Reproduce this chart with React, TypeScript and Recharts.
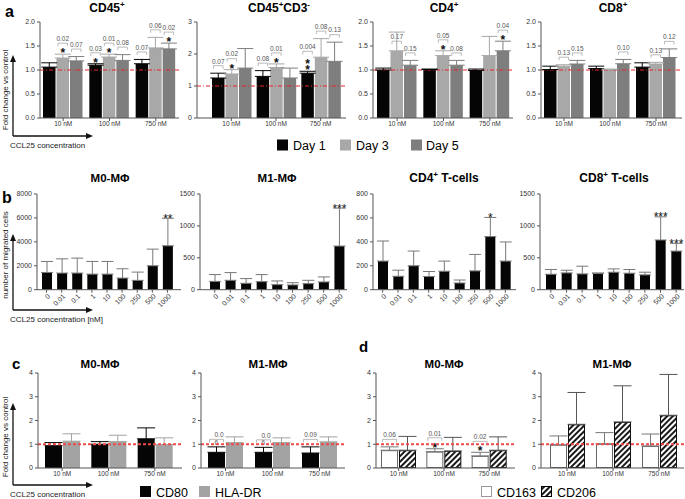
import React from 'react';
import { BarChart, Bar, XAxis, YAxis, ErrorBar, ReferenceLine } from 'recharts';

const FONT = '"Liberation Sans", Arial, Helvetica, sans-serif';

// ---------- Panel a: fold change vs control (Day 1 / Day 3 / Day 5) ----------
const doseA = ['10 nM', '100 nM', '750 nM'];

const cd45Day1 = [1.06, 1.10, 1.13];
const cd45Day1Err = [0.09, 0.03, 0.09];
const cd45Day1P = ['', '0.03', '0.07'];
const cd45Day1Star = [0, 1, 0];
const cd45Day3 = [1.25, 1.27, 1.46];
const cd45Day3Err = [0.08, 0.06, 0.22];
const cd45Day3P = ['0.02', '0.01', '0.06'];
const cd45Day3Star = [1, 1, 0];
const cd45Day5 = [1.19, 1.20, 1.44];
const cd45Day5Err = [0.09, 0.12, 0.12];
const cd45Day5P = ['0.07', '0.08', '0.02'];
const cd45Day5Star = [0, 0, 1];

const cd3nDay1 = [1.25, 1.30, 1.40];
const cd3nDay1Err = [0.15, 0.18, 0.06];
const cd3nDay1P = ['0.07', '0.08', '0.004'];
const cd3nDay1Star = [0, 0, 2];
const cd3nDay3 = [1.375, 1.58, 1.90];
const cd3nDay3Err = [0.135, 0.11, 0.58];
const cd3nDay3P = ['0.02', '0.01', '0.08'];
const cd3nDay3Star = [1, 1, 0];
const cd3nDay5 = [1.56, 1.25, 1.77];
const cd3nDay5Err = [0.61, 0.31, 0.60];
const cd3nDay5P = ['', '', '0.13'];
const cd3nDay5Star = [0, 0, 0];

const cd4Day1 = [1.00, 1.01, 0.99];
const cd4Day1Err = [0.04, 0.01, 0.03];
const cd4Day3 = [1.40, 1.30, 1.30];
const cd4Day3Err = [0.39, 0.10, 0.40];
const cd4Day3P = ['0.17', '0.05', ''];
const cd4Day3Star = [0, 1, 0];
const cd4Day3PAt = [1.6, null, null];
const cd4Day5 = [1.10, 1.10, 1.40];
const cd4Day5Err = [0.10, 0.10, 0.20];
const cd4Day5P = ['0.15', '0.08', '0.04'];
const cd4Day5Star = [0, 0, 1];

const cd8Day1 = [1.01, 1.03, 1.06];
const cd8Day1Err = [0.07, 0.05, 0.09];
const cd8Day3 = [1.08, 1.01, 1.125];
const cd8Day3Err = [0.03, 0.01, 0.035];
const cd8Day3P = ['0.13', '', '0.13'];
const cd8Day5 = [1.125, 1.13, 1.26];
const cd8Day5Err = [0.075, 0.09, 0.18];
const cd8Day5P = ['0.15', '0.10', '0.12'];

// ---------- Panel b: number of migrated cells ----------
const doseB = ['0', '0.01', '0.1', '1', '10', '100', '250', '500', '1000'];
const m0Migr = [1440, 1390, 1390, 1300, 1300, 970, 780, 2000, 3670];
const m0MigrErr = [920, 1190, 1250, 1060, 1060, 780, 690, 1390, 2300];
const m0MigrStars = ['', '', '', '', '', '', '', '', '**'];
const m1Migr = [130, 147, 100, 126, 79, 74, 95, 121, 684];
const m1MigrErr = [107, 121, 74, 111, 58, 36, 52, 79, 595];
const m1MigrStars = ['', '', '', '', '', '', '', '', '***'];
const cd4Migr = [239, 112, 200, 110, 154, 56, 157, 444, 239];
const cd4MigrErr = [168, 51, 123, 42, 85, 25, 138, 160, 160];
const cd4MigrStars = ['', '', '', '', '', '', '', '*', ''];
const cd8Migr = [242, 263, 247, 253, 274, 258, 232, 779, 605];
const cd8MigrErr = [74, 42, 121, 10, 52, 58, 42, 363, 121];
const cd8MigrStars = ['', '', '', '', '', '', '', '***', '***'];

// ---------- Panel c: CD80 / HLA-DR ----------
const doseC = ['10 nM', '100 nM', '750 nM'];
const m0Cd80 = [0.94, 1.00, 1.23];
const m0Cd80Err = [0.13, 0.11, 0.46];
const m0Hla = [1.13, 1.11, 0.99];
const m0HlaErr = [0.31, 0.27, 0.28];
const m1Cd80 = [0.66, 0.66, 0.63];
const m1Cd80Err = [0.23, 0.21, 0.26];
const m1Cd80P = ['0.0\n6', '0.0\n6', '0.09'];
const m1Hla = [1.07, 1.07, 1.10];
const m1HlaErr = [0.24, 0.20, 0.21];

// ---------- Panel d: CD163 / CD206 ----------
const m0Cd163 = [0.75, 0.69, 0.51];
const m0Cd163Err = [0.14, 0.12, 0.15];
const m0Cd163P = ['0.06', '0.01', '0.02'];
const m0Cd163Star = [0, 1, 1];
const m0Cd206 = [0.75, 0.72, 0.75];
const m0Cd206Err = [0.58, 0.57, 0.56];
const m1Cd163 = [0.98, 1.02, 0.93];
const m1Cd163Err = [0.37, 0.47, 0.50];
const m1Cd206 = [1.84, 1.94, 2.22];
const m1Cd206Err = [1.34, 1.52, 1.72];

const ticksA = [0, 0.5, 1, 1.5, 2];
const ticksA2 = [0, 1, 2, 3];
const ticksB1 = [0, 2000, 4000, 6000, 8000];
const ticksB2 = [0, 500, 1000, 1500];
const ticksB3 = [0, 200, 400, 600, 800];
const ticksCD = [0, 1, 2, 3, 4];

// ---------- colours ----------
const BLACK = '#050505';
const LIGHT = '#a8a8a8';
const DARK = '#7e7e7e';
const HLA = '#a3a3a3';

type SeriesSpec = {
  values: number[];
  errs: number[];
  fill: string;
  stroke?: string;
  errColor: string;
  pvals?: string[];
  stars?: number[];
  starText?: string[];
  pAt?: (number | null)[];
};

function makeShape(s: SeriesSpec) {
  return (props: any) => {
    const { x, y, width, height, payload } = props;
    if (x == null || y == null || !width || !payload) return <g />;
    const i = payload.i;
    const v = s.values[i];
    const e = s.errs[i];
    const ppu = v ? height / v : 0;
    const eTop = y - e * ppu;
    const base = y + height;
    const cx = x + width / 2;
    const els: React.ReactNode[] = [];
    const sw = s.stroke ? 1 : 0;
    els.push(
      <rect key="b" x={x + sw / 2} y={y + sw / 2} width={Math.max(0, width - sw)} height={Math.max(0, height - sw)}
        fill={s.fill} stroke={s.stroke || 'none'} strokeWidth={sw} />
    );
    const n = s.stars ? s.stars[i] : 0;
    if (n > 0) {
      const first = eTop - 4.5 + 7.5;
      els.push(
        <text key="s" x={cx} y={first - 6 * (n - 1)} textAnchor="middle" fontSize={12} fontWeight="bold" fill="#111" fontFamily={FONT}>
          {Array.from({ length: n }).map((_, j) => (
            <tspan key={j} x={cx} dy={j === 0 ? 0 : 6}>*</tspan>
          ))}
        </text>
      );
    }
    const p = s.pvals ? s.pvals[i] : '';
    if (p) {
      const over = s.pAt ? s.pAt[i] : null;
      const at = over != null
        ? base - over * ppu
        : (n > 1 ? eTop - 4.5 - 6 * (n - 1) - 9.5 : n > 0 ? eTop - 11 : eTop - 7.5);
      const bx1 = x + 1.5, bx2 = x + width - 1.5;
      els.push(<path key="br" d={`M${bx1},${at + 3}V${at}H${bx2}V${at + 3}`} fill="none" stroke="#aaa" strokeWidth={0.8} />);
      const lines = p.split('\n');
      if (lines.length === 1) {
        els.push(<text key="p" x={cx} y={at - 2.2} textAnchor="middle" fontSize={6.5} fill="#555" fontFamily={FONT}>{p}</text>);
      } else {
        els.push(
          <text key="p" x={cx - 2} y={at - 2.2} textAnchor="start" fontSize={6.5} fill="#555" fontFamily={FONT}>
            <tspan x={cx - 2} dy={0}>{lines[0]}</tspan>
            <tspan x={cx - 2} dy={7.7}>{lines[1]}</tspan>
          </text>
        );
      }
    }
    if (s.starText && s.starText[i]) {
      els.push(<text key="st" x={cx} y={eTop + 4.5} textAnchor="middle" fontSize={12} fill="#111" fontFamily={FONT}>{s.starText[i]}</text>);
    }
    return <g>{els}</g>;
  };
}

const FlatTick = (props: any) => {
  const { x, y, payload } = props;
  return (
    <text x={x} y={y + 5} textAnchor="middle" fontSize={6.5} fill="#333" fontFamily={FONT}>{payload.value}</text>
  );
};

const RotTick = (props: any) => {
  const { x, y, payload } = props;
  const ax = x + 4, ay = y + 4;
  return (
    <text x={ax} y={ay} transform={`rotate(-45 ${ax} ${ay})`} textAnchor="end" fontSize={7} fill="#333" fontFamily={FONT}>{payload.value}</text>
  );
};

type PanelProps = {
  axisX: number; plotTop: number; plotH: number; plotW: number;
  padL?: number; padR?: number;
  cats: string[]; series: SeriesSpec[];
  domain: [number, number]; ticks: number[]; decimals?: number;
  barSize: number; barGap: number; capW: number;
  refLine?: 'a' | 'c';
  rotated?: boolean;
};

const YW = 30, MT = 34, MR = 3;

function Panel(p: PanelProps) {
  const rows = p.cats.map((c, i) => {
    const r: any = { cat: c, i };
    p.series.forEach((s, k) => {
      r['v' + k] = s.values[i];
      r['e' + k] = [0, s.errs[i]];
    });
    return r;
  });
  const XH = p.rotated ? 34 : 16;
  const padL = p.padL ?? 0, padR = p.padR ?? 0;
  const width = YW + padL + p.plotW + padR + MR;
  const height = MT + p.plotH + XH;
  const ref = p.refLine === 'a'
    ? <ReferenceLine y={1} stroke="#e3262b" strokeWidth={1} strokeDasharray="4 2 1 2" ifOverflow="visible" />
    : p.refLine === 'c'
      ? <ReferenceLine y={1} stroke="#f04a4a" strokeWidth={2} strokeDasharray="3 2" ifOverflow="visible" />
      : null;
  return (
    <div style={{ position: 'absolute', left: p.axisX - YW, top: p.plotTop - MT }}>
      <BarChart width={width} height={height} data={rows}
        margin={{ top: MT, right: MR, bottom: 0, left: 0 }}
        barGap={p.barGap} barSize={p.barSize} barCategoryGap={0}>
        {p.refLine === 'a' ? ref : null}
        <XAxis dataKey="cat" interval={0} padding={{ left: padL, right: padR }} height={XH}
          axisLine={{ stroke: '#555' }} tickLine={{ stroke: '#555' }} tickSize={3} tickMargin={0}
          tick={p.rotated ? <RotTick /> : <FlatTick />} />
        <YAxis type="number" width={YW} domain={p.domain} ticks={p.ticks} interval={0} allowDataOverflow
          axisLine={{ stroke: '#555' }} tickLine={{ stroke: '#555' }} tickSize={3} tickMargin={2}
          tick={{ fontSize: 7, fill: '#333', fontFamily: FONT }}
          tickFormatter={(v: number) => v.toFixed(p.decimals ?? 0)} />
        {p.series.map((s, k) => (
          <Bar key={k} dataKey={'v' + k} fill={s.fill} isAnimationActive={false} shape={makeShape(s)}>
            <ErrorBar dataKey={'e' + k} width={p.capW} stroke={s.errColor} strokeWidth={1} direction="y" isAnimationActive={false} />
          </Bar>
        ))}
        {p.refLine === 'c' ? ref : null}
      </BarChart>
    </div>
  );
}

const Arrows = ({ top, bottom, right }: { top: number; bottom: number; right: number }) => (
  <g stroke="#111" strokeWidth={1.3} fill="#111">
    <line x1={13} y1={bottom} x2={13} y2={top + 5} />
    <polygon points={`13,${top} 10,${top + 7} 16,${top + 7}`} stroke="none" />
    <line x1={13} y1={bottom} x2={right - 5} y2={bottom} />
    <polygon points={`${right},${bottom} ${right - 7},${bottom - 3} ${right - 7},${bottom + 3}`} stroke="none" />
  </g>
);

const Sup = ({ t }: { t: string }) => <tspan fontSize={8} dy={-5}>{t}</tspan>;

export default function App() {
  const aA = { plotTop: 22.3, plotH: 96, domain: [0, 2] as [number, number], ticks: ticksA, decimals: 1, cats: doseA, barSize: 12.5, barGap: 1, capW: 8, refLine: 'a' as const };
  const bB = { plotTop: 194.3, plotH: 95.7, cats: doseB, barSize: 10, barGap: 1, capW: 6, rotated: true };
  const cC = { plotTop: 373.3, plotH: 95, domain: [0, 4] as [number, number], ticks: ticksCD, decimals: 0, cats: doseC, barSize: 17, barGap: 1, capW: 9, refLine: 'c' as const };
  return (
    <div style={{ position: 'absolute', left: 0, top: 0, width: 685, height: 499, background: '#fff', overflow: 'hidden', fontFamily: FONT }}>
      <svg width={685} height={499} style={{ position: 'absolute', left: 0, top: 0 }} fontFamily={FONT}>
        <defs>
          <pattern id="hatch" width="4" height="4" patternUnits="userSpaceOnUse" patternTransform="rotate(45)">
            <rect width="4" height="4" fill="#fff" />
            <line x1="1" y1="0" x2="1" y2="4" stroke="#000" strokeWidth="1.8" />
          </pattern>
        </defs>
        {/* panel letters */}
        <text x={5} y={17} fontSize={16} fontWeight="bold">a</text>
        <text x={2} y={203} fontSize={16} fontWeight="bold">b</text>
        <text x={12} y={369} fontSize={15} fontWeight="bold">c</text>
        <text x={359} y={352} fontSize={15} fontWeight="bold">d</text>
        {/* titles */}
        <g fontWeight="bold" fontSize={12} textAnchor="middle" fill="#000">
          <text x={107} y={12}>CD45<Sup t="+" /></text>
          <text x={279} y={12}>CD45<Sup t="+" /><tspan dy={5}>CD3</tspan><Sup t="-" /></text>
          <text x={444} y={12}>CD4<Sup t="+" /></text>
          <text x={613} y={12}>CD8<Sup t="+" /></text>
          <text x={110} y={182} fontSize={11.5}>M0-MΦ</text>
          <text x={277} y={182} fontSize={11.5}>M1-MΦ</text>
          <text x={444} y={182}>CD4<Sup t="+" /><tspan dy={5}> T-cells</tspan></text>
          <text x={614} y={182}>CD8<Sup t="+" /><tspan dy={5}> T-cells</tspan></text>
          <text x={100} y={368} fontSize={11.5}>M0-MΦ</text>
          <text x={268} y={368} fontSize={11.5}>M1-MΦ</text>
          <text x={444} y={368} fontSize={11.5}>M0-MΦ</text>
          <text x={612} y={368} fontSize={11.5}>M1-MΦ</text>
        </g>
        {/* axis arrows and labels */}
        <Arrows top={55} bottom={136} right={93} />
        <Arrows top={234} bottom={310} right={93} />
        <Arrows top={403} bottom={485} right={93} />
        <g fontSize={8} fill="#222">
          <text transform="translate(8,90) rotate(-90)" textAnchor="middle">Fold change vs control</text>
          <text transform="translate(8,255) rotate(-90)" textAnchor="middle">number of migrated cells</text>
          <text transform="translate(8,437) rotate(-90)" textAnchor="middle">Fold change vs control</text>
          <text x={10} y={148}>CCL25 concentration</text>
          <text x={10} y={322}>CCL25 concentration [nM]</text>
          <text x={10} y={497}>CCL25 concentration</text>
        </g>
        {/* legends */}
        <g fontSize={12.5} fill="#000">
          <rect x={277} y={139.5} width={11} height={11} fill={BLACK} />
          <text x={293} y={150}>Day 1</text>
          <rect x={340} y={139.5} width={11} height={11} fill={LIGHT} />
          <text x={356} y={150}>Day 3</text>
          <rect x={411} y={139.5} width={11} height={11} fill={DARK} />
          <text x={426} y={150}>Day 5</text>

          <rect x={140} y={486} width={11} height={11} fill={BLACK} />
          <text x={156} y={497}>CD80</text>
          <rect x={199} y={486} width={11} height={11} fill={HLA} />
          <text x={215} y={497}>HLA-DR</text>

          <rect x={481.5} y={486.5} width={10} height={10} fill="#fff" stroke="#999" strokeWidth={1} />
          <text x={497} y={497}>CD163</text>
          <rect x={541.5} y={486.5} width={10} height={10} fill="url(#hatch)" stroke="#000" strokeWidth={1} />
          <text x={557} y={497}>CD206</text>
        </g>
      </svg>

      {/* ---- panel a ---- */}
      <Panel {...aA} axisX={40} plotW={139} series={[
        { values: cd45Day1, errs: cd45Day1Err, fill: BLACK, errColor: BLACK, pvals: cd45Day1P, stars: cd45Day1Star },
        { values: cd45Day3, errs: cd45Day3Err, fill: LIGHT, errColor: LIGHT, pvals: cd45Day3P, stars: cd45Day3Star },
        { values: cd45Day5, errs: cd45Day5Err, fill: DARK, errColor: DARK, pvals: cd45Day5P, stars: cd45Day5Star },
      ]} />
      <Panel {...aA} axisX={197} padL={12} padR={3} plotW={134} domain={[0, 3]} ticks={ticksA2} decimals={0} series={[
        { values: cd3nDay1, errs: cd3nDay1Err, fill: BLACK, errColor: BLACK, pvals: cd3nDay1P, stars: cd3nDay1Star },
        { values: cd3nDay3, errs: cd3nDay3Err, fill: LIGHT, errColor: LIGHT, pvals: cd3nDay3P, stars: cd3nDay3Star },
        { values: cd3nDay5, errs: cd3nDay5Err, fill: DARK, errColor: DARK, pvals: cd3nDay5P, stars: cd3nDay5Star },
      ]} />
      <Panel {...aA} axisX={373} padL={1} plotW={139} series={[
        { values: cd4Day1, errs: cd4Day1Err, fill: BLACK, errColor: BLACK },
        { values: cd4Day3, errs: cd4Day3Err, fill: LIGHT, errColor: LIGHT, pvals: cd4Day3P, stars: cd4Day3Star, pAt: cd4Day3PAt },
        { values: cd4Day5, errs: cd4Day5Err, fill: DARK, errColor: DARK, pvals: cd4Day5P, stars: cd4Day5Star },
      ]} />
      <Panel {...aA} axisX={541} padR={3} plotW={138} series={[
        { values: cd8Day1, errs: cd8Day1Err, fill: BLACK, errColor: BLACK },
        { values: cd8Day3, errs: cd8Day3Err, fill: LIGHT, errColor: LIGHT, pvals: cd8Day3P },
        { values: cd8Day5, errs: cd8Day5Err, fill: DARK, errColor: DARK, pvals: cd8Day5P },
      ]} />

      {/* ---- panel b ---- */}
      <Panel {...bB} axisX={37} padL={2} padR={6} plotW={136} domain={[0, 8000]} ticks={ticksB1} series={[
        { values: m0Migr, errs: m0MigrErr, fill: BLACK, errColor: '#777', starText: m0MigrStars },
      ]} />
      <Panel {...bB} axisX={200} padL={7} plotW={140} domain={[0, 1500]} ticks={ticksB2} series={[
        { values: m1Migr, errs: m1MigrErr, fill: BLACK, errColor: '#777', starText: m1MigrStars },
      ]} />
      <Panel {...bB} axisX={373} padL={2} padR={3} plotW={138} domain={[0, 800]} ticks={ticksB3} series={[
        { values: cd4Migr, errs: cd4MigrErr, fill: BLACK, errColor: '#777', starText: cd4MigrStars },
      ]} />
      <Panel {...bB} axisX={540} padL={3} plotW={141} domain={[0, 1500]} ticks={ticksB2} series={[
        { values: cd8Migr, errs: cd8MigrErr, fill: BLACK, errColor: '#777', starText: cd8MigrStars },
      ]} />

      {/* ---- panel c ---- */}
      <Panel {...cC} axisX={38} padL={1} padR={4} plotW={139} series={[
        { values: m0Cd80, errs: m0Cd80Err, fill: BLACK, errColor: BLACK },
        { values: m0Hla, errs: m0HlaErr, fill: HLA, errColor: HLA },
      ]} />
      <Panel {...cC} axisX={201} padL={1} padR={2} plotW={141} series={[
        { values: m1Cd80, errs: m1Cd80Err, fill: BLACK, errColor: BLACK, pvals: m1Cd80P },
        { values: m1Hla, errs: m1HlaErr, fill: HLA, errColor: HLA },
      ]} />

      {/* ---- panel d ---- */}
      <Panel {...cC} axisX={376} padR={3} plotW={136} series={[
        { values: m0Cd163, errs: m0Cd163Err, fill: '#fff', stroke: '#666', errColor: '#777', pvals: m0Cd163P, stars: m0Cd163Star },
        { values: m0Cd206, errs: m0Cd206Err, fill: 'url(#hatch)', stroke: '#111', errColor: '#555' },
      ]} />
      <Panel {...cC} axisX={541} padL={3} padR={2} plotW={138} series={[
        { values: m1Cd163, errs: m1Cd163Err, fill: '#fff', stroke: '#666', errColor: '#777' },
        { values: m1Cd206, errs: m1Cd206Err, fill: 'url(#hatch)', stroke: '#111', errColor: '#555' },
      ]} />
    </div>
  );
}
